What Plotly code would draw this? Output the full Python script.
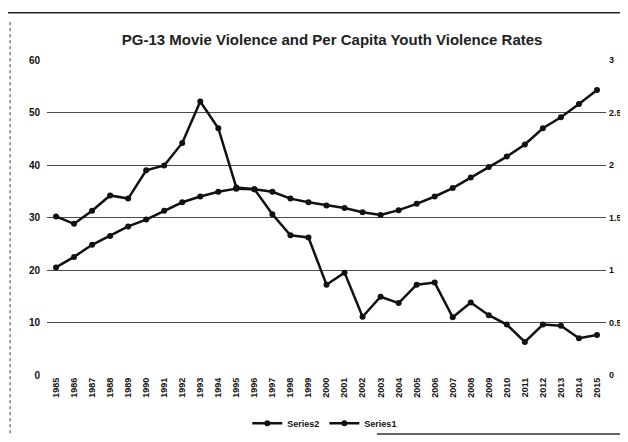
import plotly.graph_objects as go

years = [str(y) for y in range(1985, 2016)]

# Series2: smooth series, left axis (0-60)
series2 = [20.5, 22.5, 24.8, 26.5, 28.3, 29.6, 31.3, 32.9, 34.0, 34.9, 35.5,
           35.4, 34.9, 33.6, 32.9, 32.3, 31.8, 31.0, 30.5, 31.4, 32.6,
           34.0, 35.6, 37.6, 39.6, 41.6, 43.9, 47.0, 49.1, 51.6, 54.3]

# Series1: peaked series, right axis (0-3)
series1 = [1.51, 1.44, 1.565, 1.71, 1.68, 1.95, 1.995, 2.21, 2.605, 2.35, 1.785,
           1.77, 1.53, 1.33, 1.31, 0.86, 0.975, 0.555, 0.745, 0.685, 0.86,
           0.88, 0.55, 0.69, 0.57, 0.48, 0.315, 0.48, 0.47, 0.35, 0.38]

left_ticks = [0, 10, 20, 30, 40, 50, 60]
right_ticks = [0, 0.5, 1, 1.5, 2, 2.5, 3]
right_tick_labels = ["0", "0.5", "1", "1.5", "2", "2.5", "3"]

title_text = "PG-13 Movie Violence and Per Capita Youth Violence Rates"

fig = go.Figure()
fig.add_trace(go.Scatter(
    x=years, y=series2, name="Series2", mode="lines+markers",
    line=dict(color="#111", width=2.5),
    marker=dict(color="#111", size=6, symbol="circle"),
    yaxis="y"))
fig.add_trace(go.Scatter(
    x=years, y=series1, name="Series1", mode="lines+markers",
    line=dict(color="#111", width=2.5),
    marker=dict(color="#111", size=6, symbol="circle"),
    yaxis="y2"))

tickfont = dict(family="Liberation Sans, Arial, sans-serif", size=10, color="#111", weight="bold")
rtickfont = dict(family="Liberation Sans, Arial, sans-serif", size=9, color="#111", weight="bold")

fig.update_layout(
    width=628, height=442,
    margin=dict(l=39, r=30, t=52, b=64),
    paper_bgcolor="white", plot_bgcolor="white",
    title=dict(text=title_text, x=0.51, xref="paper", xanchor="center",
               y=1 - 32 / 442, yref="container", yanchor="middle",
               font=dict(family="Liberation Sans, Arial, sans-serif", size=15,
                         color="#222", weight="bold")),
    xaxis=dict(type="category", range=[-0.5, 30.5], tickangle=-90,
               tickfont=dict(family="Liberation Sans, Arial, sans-serif", size=9,
                             color="#111", weight="bold"),
               showgrid=False, showline=False, ticks="", zeroline=False),
    yaxis=dict(range=[0, 60], tickvals=left_ticks, showgrid=True,
               gridcolor="#4a4a4a", gridwidth=1, zeroline=False, showline=False,
               ticks="", tickfont=tickfont, ticklabelstandoff=6),
    yaxis2=dict(range=[0, 3], tickvals=right_ticks, ticktext=right_tick_labels,
                overlaying="y", side="right", showgrid=False, zeroline=False,
                showline=False, ticks="", tickfont=rtickfont, ticklabelstandoff=2),
    legend=dict(orientation="h", x=0.497, xanchor="center", y=-0.153,
                yanchor="middle",
                font=dict(family="Liberation Sans, Arial, sans-serif", size=9,
                          color="#111", weight="bold"),
                bgcolor="rgba(0,0,0,0)"),
    showlegend=True,
    shapes=[
        dict(type="line", xref="paper", yref="paper", x0=-0.08, x1=1.06,
             y0=1.150, y1=1.150, line=dict(color="#222", width=1.5)),
        dict(type="line", xref="paper", yref="paper", x0=-0.066, x1=-0.066,
             y0=1.12, y1=-0.19, line=dict(color="#333", width=1, dash="dot")),
        dict(type="line", xref="paper", yref="paper", x0=0.59, x1=1.06,
             y0=-0.187, y1=-0.187, line=dict(color="#333", width=1.5)),
    ],
)

fig.write_html("out.html")
